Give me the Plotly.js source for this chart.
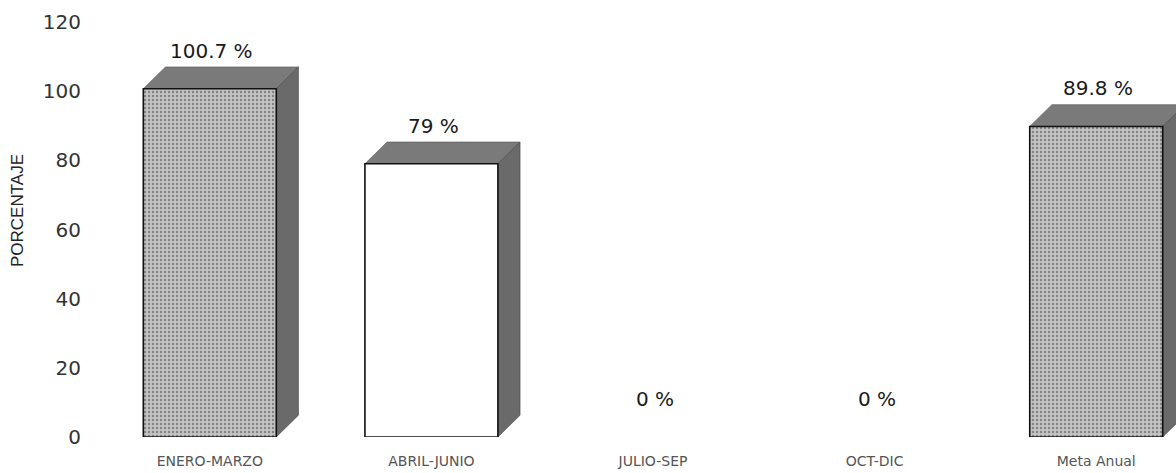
<!DOCTYPE html>
<html>
<head>
<meta charset="utf-8">
<script src="https://cdn.plot.ly/plotly-3.0.1.min.js"></script>
<style>html,body{margin:0;padding:0;background:#fff;}#chart{width:1176px;height:473px;}</style>
</head>
<body>
<div id="chart"></div>
<script>
const categories = ['ENERO-MARZO', 'ABRIL-JUNIO', 'JULIO-SEP', 'OCT-DIC', 'Meta Anual'];
const values = [100.7, 79, 0, 0, 89.8];
const valueLabels = ['100.7 %', '79 %', '0 %', '0 %', '89.8 %'];
const frontColors = ['#c4c4c4', '#ffffff', '#c4c4c4', '#c4c4c4', '#c4c4c4'];
const patternShapes = ['.', '', '.', '.', '.'];
const yTicks = [0, 20, 40, 60, 80, 100, 120];

const xPos = categories.map((c, i) => i);
const barWidth = 0.6;
const depthX = 0.1;   // 3D depth in category units
const depthY = 6.3;   // 3D depth in value units

const shapes = [];
values.forEach((v, i) => {
  if (v <= 0) return;
  const x0 = xPos[i] - barWidth / 2, x1 = xPos[i] + barWidth / 2;
  // top face
  shapes.push({
    type: 'path', xref: 'x', yref: 'y', layer: 'below',
    path: `M ${x0} ${v} L ${x0 + depthX} ${v + depthY} L ${x1 + depthX} ${v + depthY} L ${x1} ${v} Z`,
    fillcolor: '#7a7a7a', line: {color: '#555', width: 0.6}
  });
  // side face
  shapes.push({
    type: 'path', xref: 'x', yref: 'y', layer: 'below',
    path: `M ${x1} ${0} L ${x1 + depthX} ${depthY} L ${x1 + depthX} ${v + depthY} L ${x1} ${v} Z`,
    fillcolor: '#6a6a6a', line: {color: '#444', width: 0.6}
  });
});

const annotations = values.map((v, i) => ({
  x: xPos[i], y: v, xref: 'x', yref: 'y',
  text: valueLabels[i], showarrow: false,
  yanchor: 'bottom', yshift: 24, xshift: 2,
  font: {family: 'DejaVu Sans, Verdana, sans-serif', size: 20, color: '#1a1a1a'}
}));
annotations.push({
  text: 'PORCENTAJE', xref: 'paper', yref: 'paper',
  x: -0.0752, y: 0.5446, xanchor: 'center', yanchor: 'middle',
  textangle: -90, showarrow: false,
  font: {family: 'Liberation Sans, Arial, sans-serif', size: 17, color: '#222'}
});

const trace = {
  type: 'bar',
  x: xPos,
  y: values,
  width: barWidth,
  marker: {
    color: frontColors,
    pattern: {shape: patternShapes, fillmode: 'overlay', fgcolor: '#999999', size: 4, solidity: 0.3},
    line: {color: '#111', width: values.map(v => v > 0 ? 1.6 : 0)}
  },
  hoverinfo: 'skip'
};

const layout = {
  width: 1176, height: 473,
  margin: {l: 99, r: 0, t: 22, b: 36},
  paper_bgcolor: '#fff', plot_bgcolor: '#fff',
  showlegend: false,
  xaxis: {
    range: [-0.5, 4.36],
    tickvals: xPos, ticktext: categories,
    showgrid: false, zeroline: false, showline: false,
    ticks: 'outside', ticklen: 11, tickcolor: 'rgba(0,0,0,0)',
    tickfont: {family: 'DejaVu Sans, Verdana, sans-serif', size: 14, color: '#555'}
  },
  yaxis: {
    range: [0, 120],
    tickvals: yTicks, ticktext: yTicks.map(String),
    showgrid: false, zeroline: false, showline: false,
    ticks: 'outside', ticklen: 13, tickcolor: 'rgba(0,0,0,0)',
    tickfont: {family: 'DejaVu Sans, Verdana, sans-serif', size: 20, color: '#333'}
  },
  shapes: shapes,
  annotations: annotations
};

Plotly.newPlot('chart', [trace], layout, {staticPlot: true, displayModeBar: false});
</script>
</body>
</html>
